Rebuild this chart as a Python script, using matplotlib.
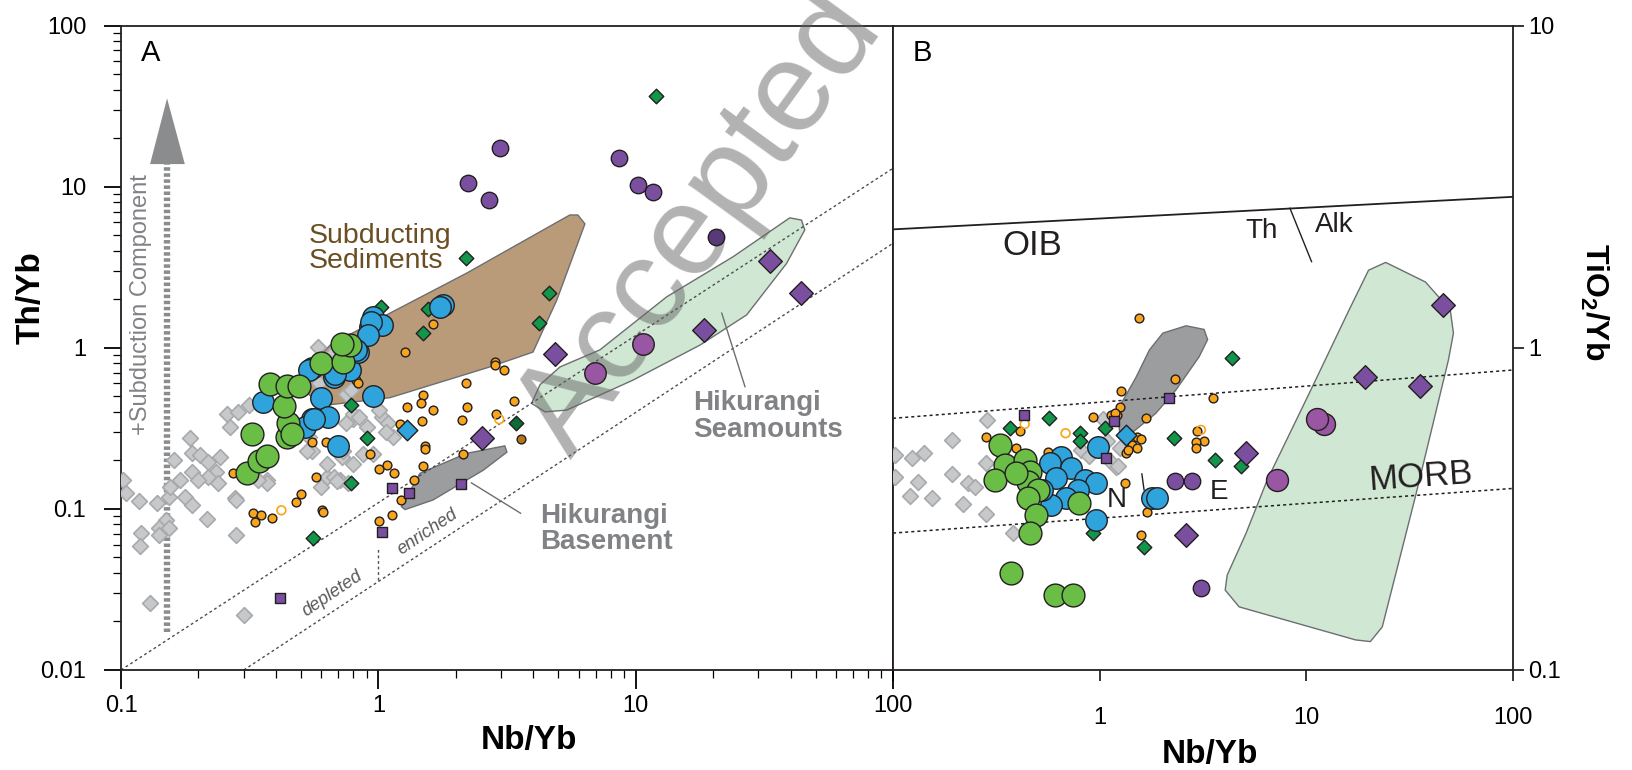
import matplotlib.pyplot as plt
from matplotlib.ticker import FixedLocator, FixedFormatter, NullLocator

plt.rcParams['font.family'] = ['Liberation Sans', 'DejaVu Sans']
plt.rcParams['mathtext.fontset'] = 'custom'
plt.rcParams['mathtext.rm'] = 'Liberation Sans'
plt.rcParams['mathtext.bf'] = 'Liberation Sans:bold'

# ---------------- Panel A: Th/Yb vs Nb/Yb ----------------
gray_a_x = [0.102, 0.105, 0.117, 0.138, 0.153, 0.155, 0.169, 0.16, 0.185, 0.188,
            0.203, 0.218, 0.243, 0.235, 0.239, 0.218, 0.188, 0.2, 0.177, 0.188,
            0.15, 0.14, 0.12, 0.215, 0.277, 0.258, 0.265, 0.286, 0.313, 0.368,
            0.28, 0.55, 0.63, 0.71, 0.585, 0.67, 0.80, 0.90, 0.955, 0.75,
            0.119, 0.14, 0.153, 0.13, 0.30, 0.28, 0.53, 0.60, 0.67,
            0.72, 0.80, 0.76, 0.87, 1.03, 1.09, 1.14, 0.80, 0.75, 0.37,
            0.34, 0.54, 0.59, 0.78, 0.84, 1.01, 1.07, 0.73, 0.63, 0.69]
gray_a_y = [0.151, 0.125, 0.112, 0.109, 0.119, 0.136, 0.152, 0.20, 0.274, 0.223,
            0.216, 0.196, 0.21, 0.17, 0.144, 0.158, 0.17, 0.151, 0.119, 0.106,
            0.085, 0.076, 0.0705, 0.086, 0.116, 0.39, 0.324, 0.40, 0.44, 0.151,
            0.069, 0.23, 0.158, 0.151, 1.01, 0.94, 0.36, 0.32, 0.22, 0.52,
            0.0588, 0.0685, 0.076, 0.026, 0.0219, 0.114, 0.23, 0.136, 0.158,
            0.21, 0.19, 0.145, 0.22, 0.37, 0.34, 0.28, 0.39, 0.34, 0.145,
            0.151, 0.28, 0.60, 0.55, 0.37, 0.41, 0.30, 0.23, 0.19, 0.15]

orange_a_x = [1.63, 1.27, 2.84, 2.84, 3.08, 2.2, 0.82, 0.83, 1.49, 1.47,
              1.29, 1.63, 2.22, 2.12, 2.87, 3.37, 1.48, 1.21, 1.52, 1.52,
              2.14, 1.49, 1.37, 1.23, 1.01, 1.08, 1.15, 0.57, 0.625, 0.55,
              0.93, 0.273, 0.50, 0.48, 0.605, 0.61, 0.327, 0.35, 0.333, 0.385,
              1.13, 1.01]
orange_a_y = [1.40, 0.94, 0.81, 0.78, 0.73, 0.60, 0.63, 0.60, 0.51, 0.455,
              0.43, 0.41, 0.43, 0.355, 0.39, 0.47, 0.35, 0.336, 0.245, 0.235,
              0.219, 0.185, 0.151, 0.113, 0.177, 0.187, 0.168, 0.157, 0.261, 0.26,
              0.22, 0.167, 0.124, 0.11, 0.098, 0.096, 0.094, 0.091, 0.083, 0.088,
              0.092, 0.084]
orange_open_a_x = [0.42, 2.95]
orange_open_a_y = [0.098, 0.36]

blue_a_x = [0.357, 0.55, 0.60, 0.55, 0.64, 0.52, 0.70, 0.67, 0.776, 0.836,
            0.95, 0.93, 0.955, 1.78, 1.73, 1.03, 0.94, 0.91, 0.82, 0.68, 0.54, 0.56]
blue_a_y = [0.46, 0.745, 0.485, 0.36, 0.373, 0.324, 0.247, 0.66, 0.73, 0.944,
            0.50, 1.35, 1.56, 1.84, 1.79, 1.38, 1.44, 1.20, 0.97, 0.69, 0.73, 0.36]

green_a_x = [0.31, 0.344, 0.368, 0.322, 0.443, 0.447, 0.43, 0.38, 0.44, 0.49,
             0.60, 0.73, 0.776, 0.72, 0.46]
green_a_y = [0.168, 0.198, 0.213, 0.291, 0.28, 0.34, 0.435, 0.596, 0.578, 0.575,
             0.80, 0.81, 1.04, 1.05, 0.29]

gdiam_a_x = [2.2, 1.02, 1.56, 1.49, 4.22, 4.6, 12.0, 0.78, 0.90, 0.78, 0.556]
gdiam_a_y = [3.59, 1.80, 1.73, 1.24, 1.42, 2.18, 36.6, 0.44, 0.274, 0.145, 0.0656]

psq_a_x = [0.415, 1.035, 1.13, 1.32, 2.09]
psq_a_y = [0.0278, 0.0714, 0.134, 0.126, 0.142]

pcirc_a_x = [2.23, 2.69, 2.97, 8.6, 10.2, 11.7]
pcirc_a_y = [10.5, 8.26, 17.3, 15.0, 10.3, 9.3]

mcirc_a_x = [6.94, 10.7]
mcirc_a_y = [0.70, 1.06]

pdiam_a_x = [4.86, 18.4, 33.4, 43.9, 2.53]
pdiam_a_y = [0.91, 1.28, 3.47, 2.19, 0.276]

# fields (outlines)
sed_x = [0.52, 0.59, 1.11, 2.71, 3.99, 4.94, 6.35, 5.96, 5.55, 2.2, 1.11, 0.65, 0.53]
sed_y = [0.545, 0.435, 0.49, 0.76, 0.94, 1.98, 5.87, 6.67, 6.67, 2.9, 1.64, 1.04, 0.73]
smt_x = [3.94, 4.44, 5.39, 9.77, 17.8, 27.0, 38.6, 45.4, 44.1, 39.7, 23.9, 13.2, 7.26, 5.08, 4.25]
smt_y = [0.452, 0.40, 0.41, 0.63, 1.04, 1.60, 3.34, 5.38, 6.2, 6.4, 3.67, 2.07, 0.97, 0.76, 0.59]
base_x = [1.23, 1.45, 2.2, 3.1, 3.16, 2.56, 1.63, 1.27]
base_y = [0.103, 0.166, 0.221, 0.246, 0.225, 0.174, 0.1135, 0.099]

# ---------------- Panel B: TiO2/Yb vs Nb/Yb ----------------
gray_b_x = [0.102, 0.102, 0.123, 0.141, 0.132, 0.121, 0.154, 0.192, 0.192, 0.231,
            0.218, 0.283, 0.285, 0.283, 0.381, 0.25, 1.09, 1.25, 1.2, 1.11,
            0.81, 0.89, 1.22, 1.04]
gray_b_y = [0.465, 0.398, 0.454, 0.471, 0.384, 0.347, 0.343, 0.517, 0.405, 0.381,
            0.327, 0.305, 0.597, 0.438, 0.267, 0.37, 0.515, 0.487, 0.428, 0.45,
            0.48, 0.46, 0.43, 0.60]

orange_b_x = [1.55, 2.31, 3.52, 1.27, 1.25, 1.21, 1.68, 1.52, 1.58, 1.43,
              1.51, 1.34, 2.97, 3.2, 2.94, 2.94, 1.32, 1.69, 1.58, 0.93,
              1.14, 1.19, 0.283, 0.41, 0.395, 0.563, 1.37]
orange_b_y = [1.235, 0.80, 0.70, 0.736, 0.653, 0.62, 0.607, 0.53, 0.52, 0.50,
              0.49, 0.472, 0.55, 0.514, 0.51, 0.49, 0.38, 0.31, 0.262, 0.608,
              0.62, 0.626, 0.53, 0.55, 0.488, 0.476, 0.48]
orange_open_b_x = [3.09, 0.684, 0.434]
orange_open_b_y = [0.556, 0.543, 0.58]

green_b_x = [0.328, 0.348, 0.31, 0.434, 0.458, 0.45, 0.502, 0.45, 0.494, 0.462,
             0.374, 0.79, 0.395, 0.605, 0.741]
green_b_y = [0.50, 0.433, 0.389, 0.449, 0.413, 0.384, 0.362, 0.341, 0.303, 0.266,
             0.20, 0.33, 0.41, 0.171, 0.171]

blue_b_x = [0.652, 0.573, 0.729, 0.617, 0.845, 0.962, 0.783, 0.688, 0.583, 0.98,
            0.962, 1.80, 1.9, 0.526]
blue_b_y = [0.459, 0.438, 0.423, 0.394, 0.389, 0.38, 0.362, 0.341, 0.325, 0.493,
            0.292, 0.341, 0.341, 0.362]

gdiam_b_x = [0.367, 0.568, 0.805, 0.80, 1.06, 0.927, 1.63, 4.39, 2.28, 3.62, 4.82]
gdiam_b_y = [0.562, 0.604, 0.543, 0.512, 0.562, 0.266, 0.24, 0.93, 0.526, 0.447, 0.43]

psq_b_x = [0.431, 1.17, 1.07, 2.16]
psq_b_y = [0.618, 0.593, 0.454, 0.70]

pcirc_b_x = [2.32, 2.79, 3.09]
pcirc_b_y = [0.386, 0.386, 0.18]

mcirc_b_x = [12.2, 11.3, 7.24]
mcirc_b_y = [0.58, 0.60, 0.389]

pdiam_b_x = [46.1, 19.3, 35.6, 5.1, 2.62]
pdiam_b_y = [1.36, 0.81, 0.76, 0.47, 0.262]

bbase_x = [1.25, 1.22, 1.5, 1.74, 2.02, 2.62, 3.2, 3.33, 3.03, 2.34, 1.87, 1.45]
bbase_y = [0.544, 0.641, 0.81, 0.984, 1.11, 1.17, 1.14, 1.06, 0.938, 0.74, 0.626, 0.548]
morb_x = [24.2, 37.7, 49.7, 51.5, 48.7, 33.7, 23.3, 20.4, 17.3, 4.73, 4.05, 4.14,
          5.1, 6.47, 10.7, 16.1, 20.0]
morb_y = [1.84, 1.60, 1.31, 1.11, 0.916, 0.345, 0.136, 0.1225, 0.124, 0.157, 0.177, 0.197,
          0.265, 0.389, 0.757, 1.31, 1.74]

EDGE = '#231f20'
GRAY_TXT = '#808285'


def dots(ax, x, y, marker, size, face, edge=EDGE, z=5, lw=1.0):
    ax.scatter(x, y, s=size, marker=marker, c=face, edgecolors=edge,
               linewidths=lw, zorder=z)


fig = plt.figure(figsize=(16.32, 7.7), dpi=100)
ax1 = fig.add_axes([121 / 1632, 1 - 670 / 770, 772 / 1632, 644.5 / 770])
ax2 = fig.add_axes([893 / 1632, 1 - 670 / 770, 620 / 1632, 644.5 / 770])

# ---- panel A ----
ax1.set_xscale('log')
ax1.set_yscale('log')
ax1.set_xlim(0.1, 100)
ax1.set_ylim(0.01, 100)

ax1.fill(sed_x, sed_y, fc='#b99b79', ec='#6d6e71', lw=1.0, zorder=1)
ax1.fill(smt_x, smt_y, fc='#cfe7d3', ec='#6d6e71', lw=1.0, zorder=1)
ax1.fill(base_x, base_y, fc='#9b9d9f', ec='#6d6e71', lw=1.0, zorder=1)

# MORB-OIB array
ax1.plot([0.1, 100], [0.01, 13.0], ls=(0, (2, 2)), color='#4d4d4f', lw=1.0, zorder=2)
ax1.plot([0.3, 100], [0.01, 4.45], ls=(0, (2, 2)), color='#4d4d4f', lw=1.0, zorder=2)
ax1.plot([1.0, 1.0], [0.0362, 0.0569], ls=(0, (2, 2)), color='#4d4d4f', lw=1.0, zorder=2)
ax1.text(0.662, 0.0296, 'depleted', rotation=34, fontsize=13, style='italic',
         color='#58595b', ha='center', va='center', zorder=2)
ax1.text(1.55, 0.072, 'enriched', rotation=34, fontsize=13, style='italic',
         color='#58595b', ha='center', va='center', zorder=2)

# subduction arrow
arr = ax1.plot([0.151, 0.151], [0.0173, 13.8], color='#8a8c8e', lw=4.6, zorder=2)[0]
arr.set_dashes((0.55, 0.4))
ax1.fill([0.1297, 0.177, 0.151], [13.8, 13.8, 35.3], color='#8a8c8e', lw=0, zorder=2)
ax1.text(0.12, 1.85, '+Subduction Component', rotation=90, fontsize=17,
         color=GRAY_TXT, ha='center', va='center', zorder=2)

# watermark
ax1.text(5.6, 0.2, 'Accepted Manuscript', rotation=54, rotation_mode='anchor',
         fontsize=92, color='#666666', alpha=0.5, ha='left', va='baseline',
         zorder=3, clip_on=False)

dots(ax1, gray_a_x, gray_a_y, 'D', 64, '#c7c8ca', edge='#a7a9ac', z=4, lw=1.2)
dots(ax1, orange_a_x, orange_a_y, 'o', 40, '#f9a51b', z=5)
ax1.scatter(orange_open_a_x, orange_open_a_y, s=40, marker='o', facecolors='none',
            edgecolors='#f9a51b', linewidths=1.2, zorder=5)
dots(ax1, gdiam_a_x, gdiam_a_y, 'D', 55, '#12964a', z=6)
dots(ax1, [3.44], [0.342], 'D', 55, '#0d6b35', z=6)
dots(ax1, [3.6], [0.27], 'o', 40, '#b8741a', z=5)
dots(ax1, blue_a_x, blue_a_y, 'o', 240, '#2fa3dc', z=7)
dots(ax1, [1.29], [0.31], 'D', 110, '#2fa3dc', z=7)
dots(ax1, green_a_x, green_a_y, 'o', 270, '#6abd45', z=8)
dots(ax1, psq_a_x, psq_a_y, 's', 62, '#7a4f9f', z=9)
dots(ax1, pcirc_a_x, pcirc_a_y, 'o', 140, '#7a4f9f', z=9)
dots(ax1, [20.5], [4.89], 'o', 140, '#583a78', z=9)
dots(ax1, mcirc_a_x, mcirc_a_y, 'o', 240, '#9856a3', z=9)
dots(ax1, pdiam_a_x, pdiam_a_y, 'D', 145, '#7a4f9f', z=9)

ax1.text(0.535, 4.49, 'Subducting', fontsize=20.5, color='#6b4f23', zorder=10)
ax1.text(0.535, 3.11, 'Sediments', fontsize=20.5, color='#6b4f23', zorder=10)
ax1.text(16.7, 0.41, 'Hikurangi', fontsize=20, fontweight='bold', color=GRAY_TXT, zorder=10)
ax1.text(16.7, 0.278, 'Seamounts', fontsize=20, fontweight='bold', color=GRAY_TXT, zorder=10)
ax1.text(4.27, 0.082, 'Hikurangi', fontsize=20, fontweight='bold', color=GRAY_TXT, zorder=10)
ax1.text(4.27, 0.056, 'Basement', fontsize=20, fontweight='bold', color=GRAY_TXT, zorder=10)
ax1.plot([21.6, 26.6], [1.64, 0.573], color='#6d6e71', lw=1.0, zorder=2)
ax1.plot([2.3, 3.57], [0.145, 0.094], color='#6d6e71', lw=1.0, zorder=2)
ax1.text(0.0255, 0.945, 'A', transform=ax1.transAxes, fontsize=21, va='baseline')

ax1.xaxis.set_major_locator(FixedLocator([0.1, 1, 10, 100]))
ax1.xaxis.set_major_formatter(FixedFormatter(['0.1', '1', '10', '100']))
ax1.yaxis.set_major_locator(FixedLocator([0.01, 0.1, 1, 10, 100]))
ax1.yaxis.set_major_formatter(FixedFormatter(['0.01', '0.1', '1', '10', '100']))
ax1.tick_params(axis='x', which='major', direction='out', length=14, width=1.3,
                labelsize=17, pad=4)
ax1.tick_params(axis='y', which='major', direction='out', length=12, width=1.3,
                labelsize=17, pad=13)
ax1.tick_params(which='minor', direction='out', length=5.5, width=0.9)
for sp in ax1.spines.values():
    sp.set_linewidth(1.3)
    sp.set_color(EDGE)

# ---- panel B ----
ax2.set_xscale('log')
ax2.set_yscale('log')
ax2.set_xlim(0.1, 100)
ax2.set_ylim(0.1, 10)

ax2.fill(bbase_x, bbase_y, fc='#9b9d9f', ec='#6d6e71', lw=1.0, zorder=1)
ax2.fill(morb_x, morb_y, fc='#cfe7d3', ec='#6d6e71', lw=1.0, zorder=1)
ax2.plot([0.1, 100], [2.33, 2.94], color=EDGE, lw=1.3, zorder=2)
ax2.plot([8.33, 10.6], [2.71, 1.85], color=EDGE, lw=1.0, zorder=2)
ax2.plot([0.1, 100], [0.604, 0.853], ls=(0, (2, 2)), color=EDGE, lw=1.1, zorder=2)
ax2.plot([0.1, 100], [0.266, 0.366], ls=(0, (2, 2)), color=EDGE, lw=1.1, zorder=2)
ax2.plot([1.6, 1.64], [0.406, 0.362], color=EDGE, lw=1.0, zorder=2)

dots(ax2, gray_b_x, gray_b_y, 'D', 64, '#c7c8ca', edge='#a7a9ac', z=4, lw=1.2)
dots(ax2, orange_b_x, orange_b_y, 'o', 40, '#f9a51b', z=5)
ax2.scatter(orange_open_b_x, orange_open_b_y, s=40, marker='o', facecolors='none',
            edgecolors='#f9a51b', linewidths=1.2, zorder=5)
dots(ax2, gdiam_b_x, gdiam_b_y, 'D', 55, '#12964a', z=6)
dots(ax2, blue_b_x, blue_b_y, 'o', 240, '#2fa3dc', z=7)
dots(ax2, [1.34], [0.536], 'D', 110, '#2fa3dc', z=7)
dots(ax2, green_b_x, green_b_y, 'o', 270, '#6abd45', z=8)
dots(ax2, psq_b_x, psq_b_y, 's', 62, '#7a4f9f', z=9)
dots(ax2, pcirc_b_x, pcirc_b_y, 'o', 140, '#7a4f9f', z=9)
dots(ax2, mcirc_b_x, mcirc_b_y, 'o', 250, '#9856a3', z=9)
dots(ax2, pdiam_b_x, pdiam_b_y, 'D', 145, '#7a4f9f', z=9)

ax2.text(0.474, 2.08, 'OIB', fontsize=25, ha='center', va='center', color=EDGE)
ax2.text(6.1, 2.31, 'Th', fontsize=20, ha='center', va='center', color=EDGE)
ax2.text(13.7, 2.40, 'Alk', fontsize=20, ha='center', va='center', color=EDGE)
ax2.text(1.21, 0.336, 'N', fontsize=20, ha='center', va='center', color=EDGE, zorder=10)
ax2.text(3.8, 0.357, 'E', fontsize=20, ha='center', va='center', color=EDGE, zorder=10)
ax2.text(35.5, 0.398, 'MORB', fontsize=25, ha='center', va='center', color=EDGE,
         rotation=4, zorder=10)
ax2.text(0.032, 0.945, 'B', transform=ax2.transAxes, fontsize=21, va='baseline')

ax2.xaxis.set_major_locator(FixedLocator([0.1, 1, 10, 100]))
ax2.xaxis.set_major_formatter(FixedFormatter(['', '1', '10', '100']))
ax2.xaxis.set_minor_locator(NullLocator())
ax2.yaxis.tick_right()
ax2.yaxis.set_major_locator(FixedLocator([0.1, 1, 10]))
ax2.yaxis.set_major_formatter(FixedFormatter(['0.1', '1', '10']))
ax2.yaxis.set_minor_locator(NullLocator())
ax2.tick_params(axis='x', direction='out', length=8, width=1.1, labelsize=17, pad=19)
ax2.tick_params(axis='y', direction='out', length=8, width=1.1, labelsize=17, pad=3)
for sp in ax2.spines.values():
    sp.set_linewidth(1.3)
    sp.set_color(EDGE)

# axis titles
fig.text(31 / 1632, 1 - 298 / 770, 'Th/Yb', rotation=90, fontsize=24, fontweight='bold',
         ha='center', va='center')
fig.text(529 / 1632, 1 - 741 / 770, 'Nb/Yb', fontsize=24, fontweight='bold',
         ha='center', va='center')
fig.text(1210 / 1632, 1 - 754 / 770, 'Nb/Yb', fontsize=24, fontweight='bold',
         ha='center', va='center')
fig.text(1594 / 1632, 1 - 302 / 770, r'TiO$_\mathbf{2}$/Yb', rotation=270, fontsize=23,
         fontweight='bold', ha='center', va='center')

fig.savefig('out.png', dpi=100)
